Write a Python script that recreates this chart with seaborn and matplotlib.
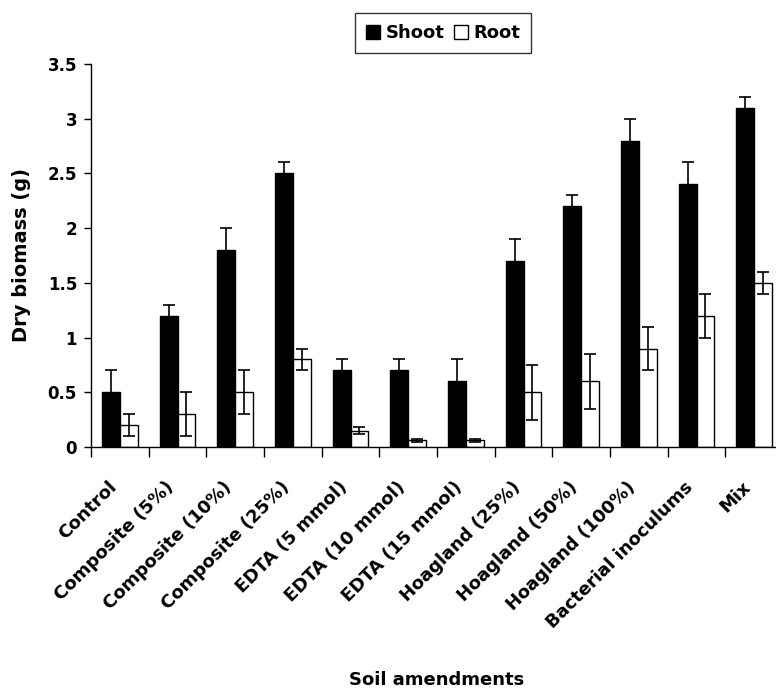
import numpy as np
import pandas as pd
import matplotlib
matplotlib.use("Agg")
import matplotlib.pyplot as plt
import matplotlib.transforms as mtransforms
from matplotlib.patches import Patch
import seaborn as sns

# data
treatments = ["Control", "Composite (5%)", "Composite (10%)", "Composite (25%)",
              "EDTA (5 mmol)", "EDTA (10 mmol)", "EDTA (15 mmol)",
              "Hoagland (25%)", "Hoagland (50%)", "Hoagland (100%)",
              "Bacterial inoculums", "Mix"]
shoot = [0.5, 1.2, 1.8, 2.5, 0.7, 0.7, 0.6, 1.7, 2.2, 2.8, 2.4, 3.1]
shoot_err = [0.2, 0.1, 0.2, 0.1, 0.1, 0.1, 0.2, 0.2, 0.1, 0.2, 0.2, 0.1]
root = [0.2, 0.3, 0.5, 0.8, 0.15, 0.06, 0.06, 0.5, 0.6, 0.9, 1.2, 1.5]
root_err = [0.1, 0.2, 0.2, 0.1, 0.03, 0.01, 0.01, 0.25, 0.25, 0.2, 0.2, 0.1]

df = pd.DataFrame({
    "treatment": treatments * 2,
    "biomass": shoot + root,
    "part": ["Shoot"] * len(treatments) + ["Root"] * len(treatments),
})

sns.set_style("white")
plt.rcParams["font.family"] = ["DejaVu Sans"]
plt.rcParams["font.weight"] = "bold"
for key in ["text.color", "axes.labelcolor", "xtick.color", "ytick.color"]:
    plt.rcParams[key] = "black"

fig = plt.figure(figsize=(7.76, 6.91), dpi=100)
# axes run past the right edge, as in the cropped reference
ax = fig.add_axes([91 / 776, 1 - 447 / 691, 692 / 776, 383 / 691])

sns.barplot(data=df, x="treatment", y="biomass", hue="part",
            palette=["black", "white"], edgecolor="black", linewidth=1,
            width=0.62, gap=0, errorbar=None, ax=ax, legend=False)

# error bars: shoot one-sided (up), root both ways
for cont, vals, errs, lower in [(ax.containers[0], shoot, shoot_err, False),
                                (ax.containers[1], root, root_err, True)]:
    xs = [b.get_x() + b.get_width() / 2 for b in cont]
    errs = np.array(errs)
    yerr = [errs if lower else np.zeros_like(errs), errs]
    eb = ax.errorbar(xs, vals, yerr=yerr, fmt="none", ecolor="black",
                     elinewidth=1.2, capsize=4, capthick=1.2, zorder=3)
    if not lower:
        eb[1][0].set_visible(False)  # no cap at the bar top

ax.set_xlim(-0.5, len(treatments) - 0.5)
ax.set_ylim(0, 3.5)
ax.set_yticks(np.arange(0, 3.51, 0.5))
ax.set_yticklabels(["0", "0.5", "1", "1.5", "2", "2.5", "3", "3.5"],
                   fontsize=12, fontweight="bold")

ax.set_xticks(range(len(treatments)))
ax.set_xticks(np.arange(-0.5, len(treatments), 1), minor=True)
ax.tick_params(axis="x", which="major", length=0, pad=27)
ax.tick_params(axis="x", which="minor", length=7, width=1, direction="out",
               color="black", bottom=True)
ax.tick_params(axis="y", length=5, width=1, direction="out", color="black",
               left=True, pad=5)
ax.set_xticklabels(treatments, rotation=45, ha="right", va="center",
                   rotation_mode="anchor", fontsize=13, fontweight="bold")
shift = mtransforms.ScaledTranslation(-6 / 100, 0, fig.dpi_scale_trans)
for lab in ax.get_xticklabels():
    lab.set_transform(lab.get_transform() + shift)

for side in ["top", "right"]:
    ax.spines[side].set_visible(False)
for side in ["left", "bottom"]:
    ax.spines[side].set_color("black")
    ax.spines[side].set_linewidth(1)

ax.set_xlabel("Soil amendments", fontsize=13, fontweight="bold")
ax.xaxis.set_label_coords(0.5, (447 - 671) / 383)
ax.set_ylabel("Dry biomass (g)", fontsize=14, fontweight="bold")
ax.yaxis.set_label_coords(-(91 - 31) / 692, 0.5)

handles = [Patch(facecolor="black", edgecolor="black", label="Shoot"),
           Patch(facecolor="white", edgecolor="black", label="Root")]
leg = fig.legend(handles=handles, ncol=2, loc="center",
                 bbox_to_anchor=(443 / 776, 1 - 33 / 691),
                 prop={"size": 13, "weight": "bold"}, frameon=True,
                 fancybox=False, handlelength=0.8, handleheight=0.8,
                 handletextpad=0.3, columnspacing=0.5, borderpad=0.6)
leg.get_frame().set_edgecolor("black")
leg.get_frame().set_linewidth(1)

fig.savefig("out.png", dpi=100)
